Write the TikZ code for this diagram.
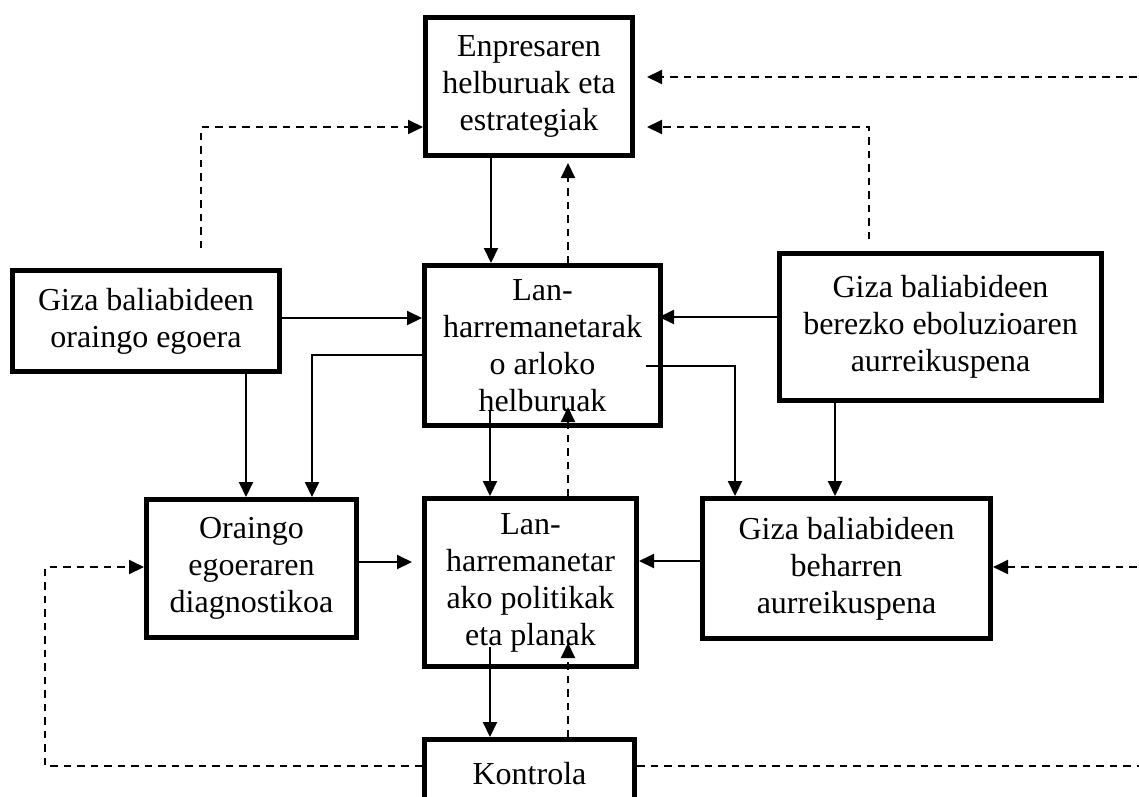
\documentclass[tikz,border=0pt]{standalone}
\usepackage{fontspec}
\setmainfont{Liberation Serif}
\usetikzlibrary{arrows.meta}

\tikzset{
  box/.style={draw, line width=5pt, inner sep=0pt, align=center,
    font=\fontsize{32}{37}\selectfont},
  link/.style={line width=2pt, -{Triangle[length=15pt,width=14pt]}},
  dlink/.style={link, dash pattern=on 7.5pt off 6pt},
  dline/.style={line width=2pt, dash pattern=on 7.5pt off 6pt},
}

\begin{document}
\begin{tikzpicture}[x=1pt,y=-1pt]
\useasboundingbox (0,0) rectangle (1139,796);
\clip (0,0) rectangle (1139,796);
\fill[white] (0,0) rectangle (1139,796);

% boxes
\node[box, minimum width=207pt, minimum height=138pt] (enp) at (529,86.5)
  {Enpresaren\\helburuak eta\\estrategiak};
\node[box, minimum width=236pt, minimum height=160pt] (obj) at (542.5,345.5)
  {Lan-\\harremanetarak\\o arloko\\helburuak};
\node[box, minimum width=212pt, minimum height=168pt] (pol) at (530.5,582.5)
  {Lan-\\harremanetar\\ako politikak\\eta planak};
\node[box, minimum width=210pt, minimum height=69pt] (kon) at (529.5,774)
  {Kontrola};
\node[box, minimum width=210pt, minimum height=138pt] (diag) at (251.5,568.5)
  {Oraingo\\egoeraren\\diagnostikoa};
\node[box, minimum width=267pt, minimum height=101pt] (cur) at (146,321)
  {Giza baliabideen\\oraingo egoera};
\node[box, minimum width=322pt, minimum height=147pt] (evo) at (940.5,327)
  {Giza baliabideen\\berezko eboluzioaren\\aurreikuspena};
\node[box, minimum width=288pt, minimum height=140pt] (need) at (846.5,568.5)
  {Giza baliabideen\\beharren\\aurreikuspena};

% free ends of the feedback lines
\coordinate (rt) at (1150,77);
\coordinate (rm) at (1150,567);
\coordinate (rb) at (1150,766);
\coordinate (lft) at (45,650);

% solid flows
\draw[link] ([xshift=-38pt]enp.south) -- ([xshift=-38pt]enp.south |- obj.north);
\draw[link] ([yshift=3pt]cur.east) -- ([yshift=3pt]cur.east -| obj.west);
\draw[link, shorten >=-4pt] ([yshift=10pt]evo.west) -- ([yshift=10pt]evo.west -| obj.east);
\draw[link] ([yshift=-9.5pt]obj.west) -| ([xshift=60.5pt]diag.north);
\draw[link] ([xshift=100pt]cur.south) -- ([xshift=100pt]cur.south |- diag.north);
\draw[link] ([xshift=-17pt,yshift=-20.5pt]obj.east) -| ([xshift=-111.5pt]need.north);
\draw[link] ([xshift=-105.5pt]evo.south) -- ([xshift=-105.5pt]evo.south |- need.north);
\draw[link] ([xshift=-52.5pt,yshift=18pt]obj.south) -- ([xshift=-52.5pt]obj.south |- pol.north);
\draw[link, shorten >=10pt] ([yshift=6.5pt]diag.east) -- ([yshift=6.5pt]diag.east -| pol.west);
\draw[link] ([yshift=7.5pt]need.west) -- ([yshift=7.5pt]need.west -| pol.east);
\draw[link] ([xshift=-40.5pt,yshift=22pt]pol.south) -- ([xshift=-40.5pt]pol.south |- kon.north);

% dashed feedback
\draw[dlink, shorten >=5pt] ([xshift=25.5pt]obj.north) -- ([xshift=25.5pt]obj.north |- enp.south);
\draw[dlink] ([xshift=55pt,yshift=20pt]cur.north) |- ([yshift=-40.5pt]enp.west);
\draw[dlink] ([xshift=-71.5pt,yshift=12pt]evo.north) |- ([xshift=12pt,yshift=-40.5pt]enp.east);
\draw[dlink] (rt) -- ([xshift=12pt,yshift=9.5pt]enp.east);
\draw[dlink] ([xshift=37.5pt]pol.north) -- ([xshift=25.5pt,yshift=21pt]obj.south);
\draw[dlink] ([xshift=38.5pt]kon.north) -- ([xshift=37.5pt,yshift=26pt]pol.south);
\draw[dlink] ([yshift=8pt]kon.west) -| (lft) |- ([yshift=1.5pt]diag.west);
\draw[dline] ([yshift=8pt]kon.east) -- (rb);
\draw[dlink] (rm) -- ([yshift=1.5pt]need.east);
\end{tikzpicture}
\end{document}
